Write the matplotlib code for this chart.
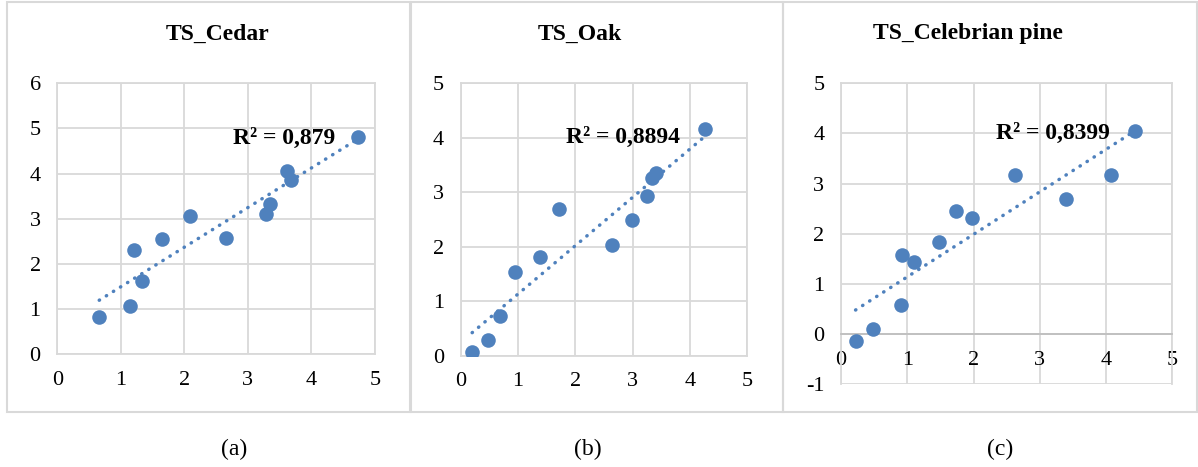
import numpy as np
import matplotlib.pyplot as plt
from matplotlib.patches import Rectangle

plt.rcParams['font.family'] = ['Liberation Serif', 'DejaVu Serif']
plt.rcParams['axes.unicode_minus'] = False

# values
cedar_x = [0.66, 1.15, 1.20, 1.34, 1.64, 2.09, 2.65, 3.28, 3.34, 3.62, 3.68, 4.73]
cedar_y = [0.81, 1.06, 2.31, 1.62, 2.55, 3.06, 2.58, 3.10, 3.33, 4.06, 3.86, 4.80]
oak_x = [0.20, 0.47, 0.69, 0.95, 1.39, 1.72, 2.64, 2.99, 3.25, 3.34, 3.41, 4.26]
oak_y = [0.06, 0.29, 0.73, 1.53, 1.82, 2.70, 2.04, 2.50, 2.93, 3.27, 3.36, 4.17]
pine_x = [0.22, 0.48, 0.90, 0.92, 1.10, 1.48, 1.74, 1.97, 2.62, 3.39, 4.07, 4.43]
pine_y = [-0.13, 0.11, 0.59, 1.58, 1.44, 1.83, 2.46, 2.32, 3.17, 2.70, 3.18, 4.04]

titles = ["TS_Cedar", "TS_Oak", "TS_Celebrian pine"]
r2_labels = ["R² = 0,879", "R² = 0,8894", "R² = 0,8399"]
captions = ["(a)", "(b)", "(c)"]
y_ranges = [(0, 6), (0, 5), (-1, 5)]

W, H = 1198, 467
blue = "#4F81BD"
grid = "#D9D9D9"

fig = plt.figure(figsize=(W / 100, H / 100), dpi=100)

# layout in pixels: axes box (left, right, bottom, top), panel frame, title x, caption x, R2 pos
axes_px = [(57.3, 375, 354, 83.3), (460.7, 747.3, 355.7, 83.3), (841, 1172.3, 384.3, 83.3)]
frames_px = [(7, 410), (411, 783), (783, 1197)]
title_x = [218, 580, 968]
caption_x = [234, 588, 1000]
r2_pos = [(4.38, 4.77), (3.83, 4.0), (4.06, 4.01)]

series = [(cedar_x, cedar_y), (oak_x, oak_y), (pine_x, pine_y)]

for i, (xs, ys) in enumerate(series):
    fx0, fx1 = frames_px[i]
    fig.patches.append(Rectangle((fx0 / W, 1 - 412 / H), (fx1 - fx0) / W, (412 - 2) / H,
                                 transform=fig.transFigure, fill=False,
                                 edgecolor=grid, linewidth=1.5))

    l, r, b, t = axes_px[i]
    ax = fig.add_axes([l / W, 1 - b / H, (r - l) / W, (b - t) / H])
    ax.set_xlim(0, 5)
    ax.set_ylim(*y_ranges[i])
    ax.set_xticks(range(0, 6))
    ax.set_yticks(range(y_ranges[i][0], y_ranges[i][1] + 1))
    ax.grid(True, color=grid, linewidth=1.3)
    ax.set_axisbelow(True)
    for s in ax.spines.values():
        s.set_color(grid)
        s.set_linewidth(1.3)
    if y_ranges[i][0] < 0:
        ax.spines['bottom'].set_position(('data', 0))
        ax.spines['bottom'].set_color("#BFBFBF")
    ax.tick_params(length=0, labelsize=16, pad=12)

    ax.scatter(xs, ys, s=110, color=blue, zorder=3, linewidths=0)
    k, c = np.polyfit(xs, ys, 1)
    tx = np.array([min(xs), max(xs)])
    ax.plot(tx, k * tx + c, color=blue, linewidth=2.5,
            linestyle=(0, (0.1, 2.3)), dash_capstyle='round', zorder=2)

    rx, ry = r2_pos[i]
    ax.text(rx, ry, r2_labels[i], ha='right', va='center', fontsize=17,
            fontweight='bold', zorder=4)

    fig.text(title_x[i] / W, 1 - 34 / H, titles[i], ha='center', va='center',
             fontsize=17, fontweight='bold')
    fig.text(caption_x[i] / W, 1 - 449 / H, captions[i], ha='center', va='center',
             fontsize=17)

fig.savefig("out.png", dpi=100)
